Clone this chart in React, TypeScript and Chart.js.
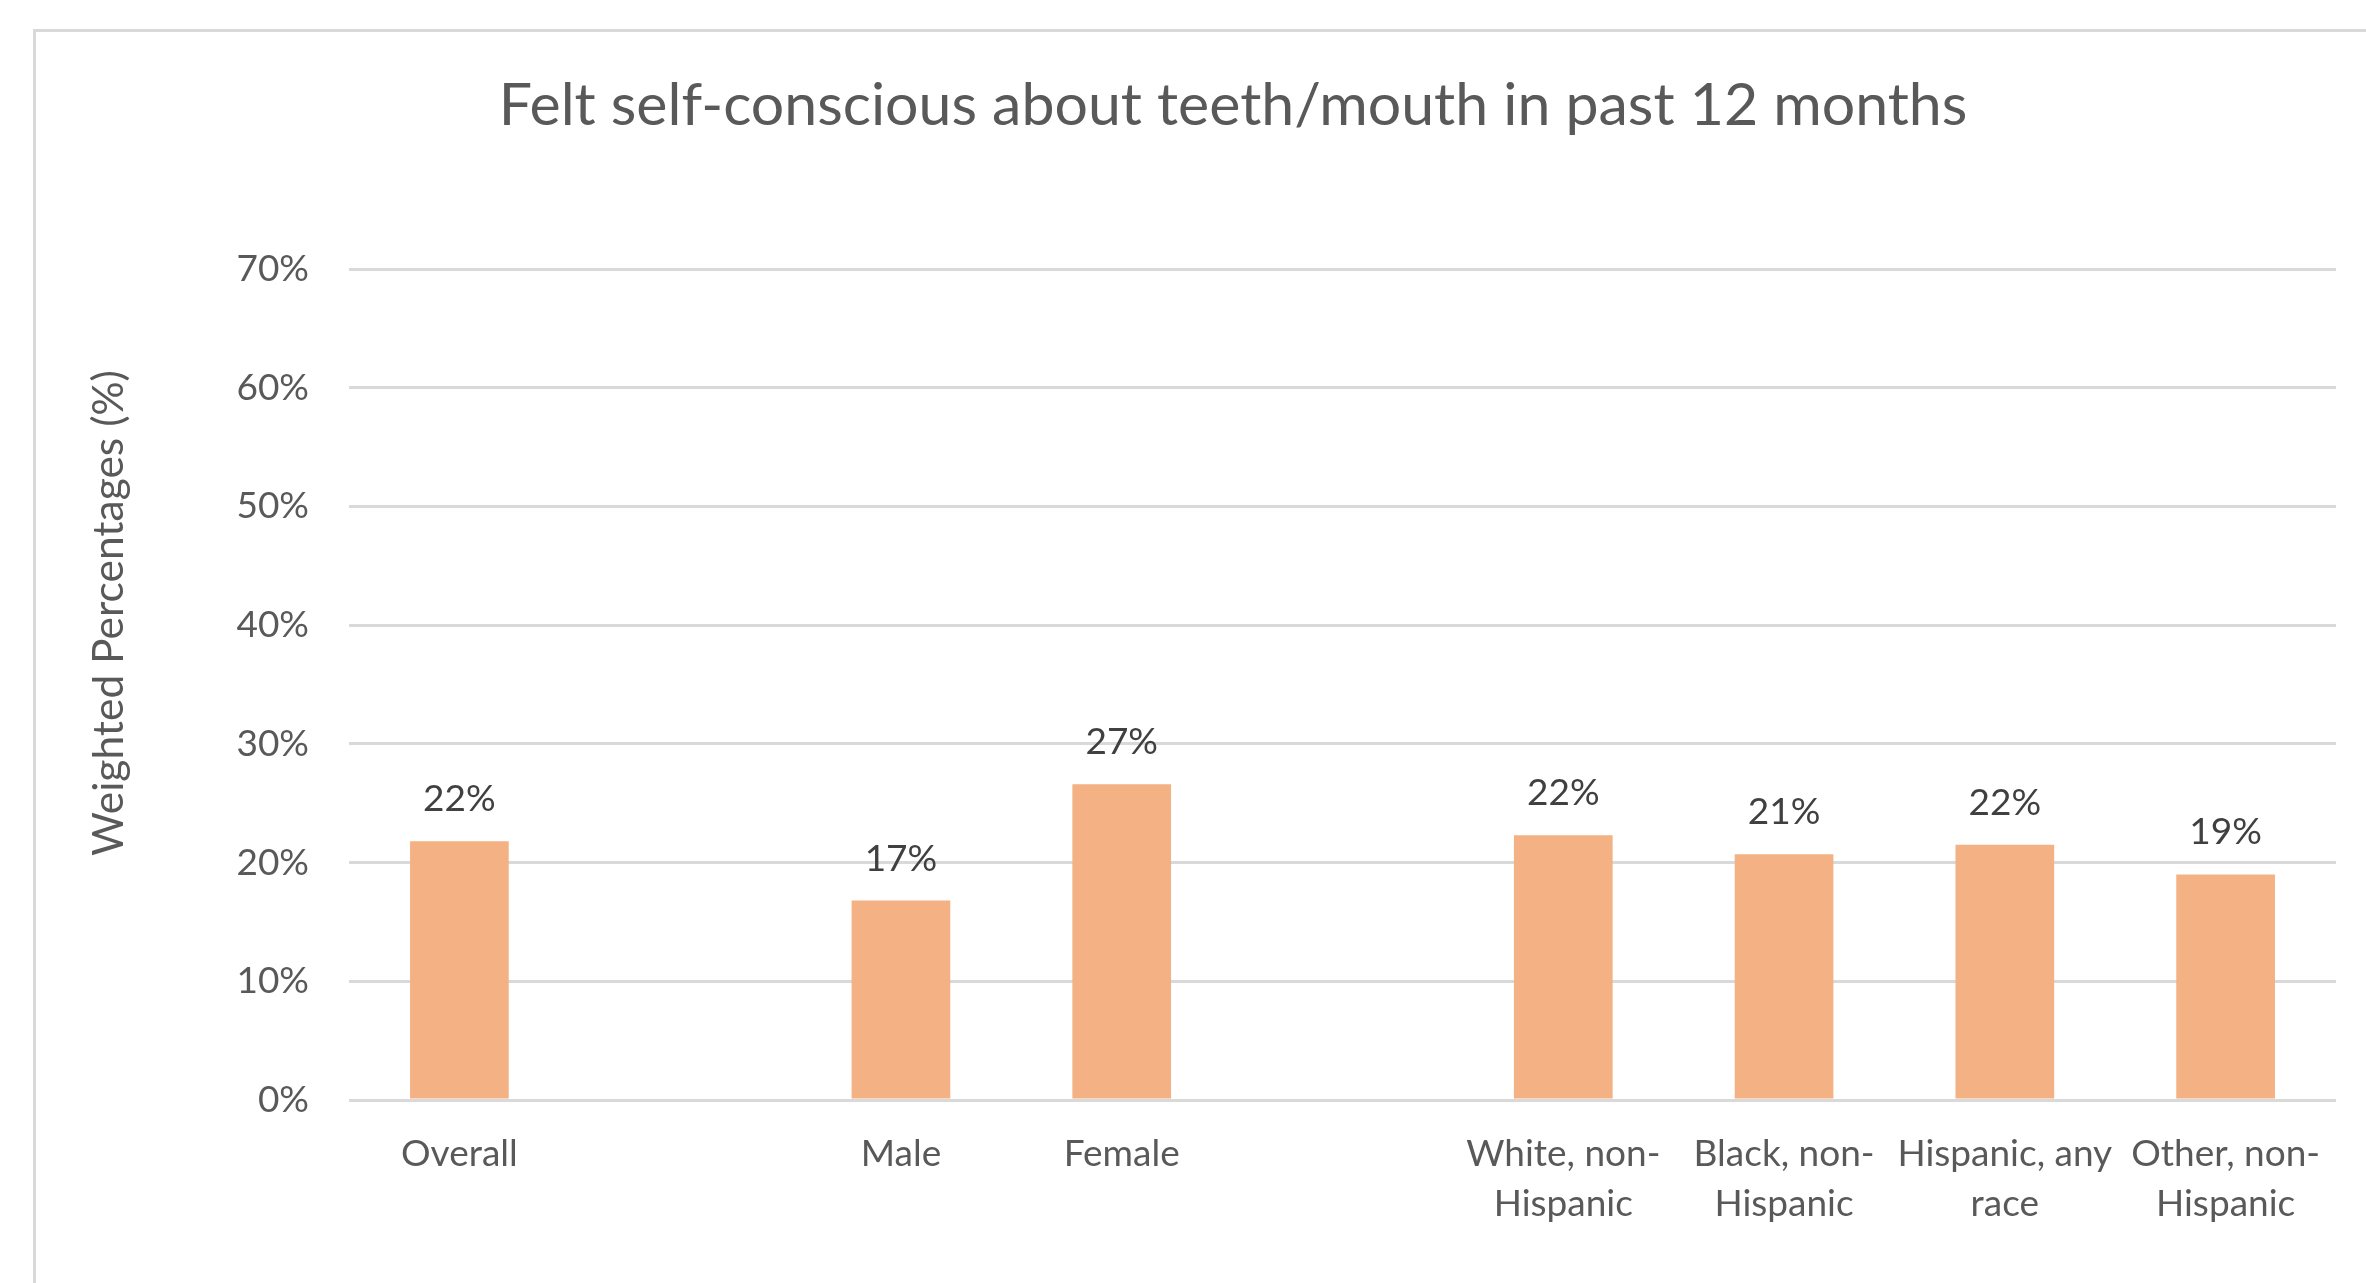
import React, { useEffect, useRef } from "react";
import { Chart, registerables } from "chart.js";

Chart.register(...registerables);

const chartTitle = "Felt self-conscious about teeth/mouth in past 12 months";
const yAxisTitle = "Weighted Percentages (%)";
const categories: (string | string[])[] = [
  "Overall",
  "",
  "Male",
  "Female",
  "",
  ["White, non-", "Hispanic"],
  ["Black, non-", "Hispanic"],
  ["Hispanic, any", "race"],
  ["Other, non-", "Hispanic"],
];
const percentValues: (number | null)[] = [21.8, null, 16.8, 26.6, null, 22.3, 20.7, 21.5, 19.0];
const yTickMin = 0;
const yTickMax = 70;
const yTickStep = 10;

const FONT = "Lato, 'Open Sans', sans-serif";
const BAR_COLOR = "#F4B183";
const GRID_COLOR = "#D9D9D9";
const TEXT_COLOR = "#595959";
const LABEL_COLOR = "#404040";

const frameBorderPlugin = {
  id: "frameBorder",
  beforeDraw(chart: any) {
    const ctx = chart.ctx;
    ctx.save();
    ctx.fillStyle = "#ffffff";
    ctx.fillRect(0, 0, chart.width, chart.height);
    ctx.strokeStyle = GRID_COLOR;
    ctx.lineWidth = 3;
    ctx.strokeRect(34.5, 30.5, chart.width + 100, chart.height + 100);
    ctx.restore();
  },
};

const titlesPlugin = {
  id: "titles",
  afterDraw(chart: any) {
    const ctx = chart.ctx;
    ctx.save();
    ctx.fillStyle = TEXT_COLOR;
    ctx.textAlign = "center";
    ctx.textBaseline = "middle";
    ctx.font = `59px ${FONT}`;
    ctx.fillText(chartTitle, 1233, 106);
    ctx.translate(109, 613);
    ctx.rotate(-Math.PI / 2);
    ctx.font = `42.5px ${FONT}`;
    ctx.fillText(yAxisTitle, 0, 0);
    ctx.restore();
  },
};

const barValueLabelsPlugin = {
  id: "barValueLabels",
  afterDatasetsDraw(chart: any) {
    const ctx = chart.ctx;
    const meta = chart.getDatasetMeta(0);
    const data = chart.data.datasets[0].data;
    ctx.save();
    ctx.font = `37px ${FONT}`;
    ctx.fillStyle = LABEL_COLOR;
    ctx.textAlign = "center";
    ctx.textBaseline = "alphabetic";
    meta.data.forEach((bar: any, i: number) => {
      const v = data[i];
      if (v === null || v === undefined) return;
      ctx.fillText(`${Math.round(v)}%`, bar.x, bar.y - 30);
    });
    ctx.restore();
  },
};

export default function App() {
  const canvasRef = useRef<HTMLCanvasElement | null>(null);

  useEffect(() => {
    if (!canvasRef.current) return;
    const chart = new Chart(canvasRef.current, {
      type: "bar",
      data: {
        labels: categories,
        datasets: [
          {
            data: percentValues,
            backgroundColor: BAR_COLOR,
            borderWidth: 0,
            categoryPercentage: 1,
            barPercentage: 0.447,
          },
        ],
      },
      options: {
        responsive: false,
        animation: false,
        events: [],
        layout: { padding: { left: 0, right: 30, top: 269, bottom: 0 } },
        plugins: {
          legend: { display: false },
          tooltip: { enabled: false },
          title: { display: false },
        },
        scales: {
          x: {
            grid: { display: false, drawTicks: false },
            border: { display: false },
            ticks: {
              color: TEXT_COLOR,
              font: { family: FONT, size: 37, lineHeight: 1.35 },
              padding: 29,
              maxRotation: 0,
              minRotation: 0,
              autoSkip: false,
            },
            afterFit(scale: any) {
              scale.height = 183;
            },
          },
          y: {
            min: yTickMin,
            max: yTickMax,
            grid: { color: GRID_COLOR, lineWidth: 3, drawTicks: false },
            border: { display: false },
            ticks: {
              stepSize: yTickStep,
              color: TEXT_COLOR,
              font: { family: FONT, size: 37 },
              padding: 40,
              callback: (v: any) => `${v}%`,
            },
            afterFit(scale: any) {
              scale.width = 349;
            },
          },
        },
      },
      plugins: [frameBorderPlugin, barValueLabelsPlugin, titlesPlugin],
    });
    return () => chart.destroy();
  }, []);

  return (
    <div style={{ position: "fixed", left: 0, top: 0, width: 2366, height: 1283, background: "#fff" }}>
      <canvas ref={canvasRef} width={2366} height={1283} style={{ display: "block" }} />
    </div>
  );
}
